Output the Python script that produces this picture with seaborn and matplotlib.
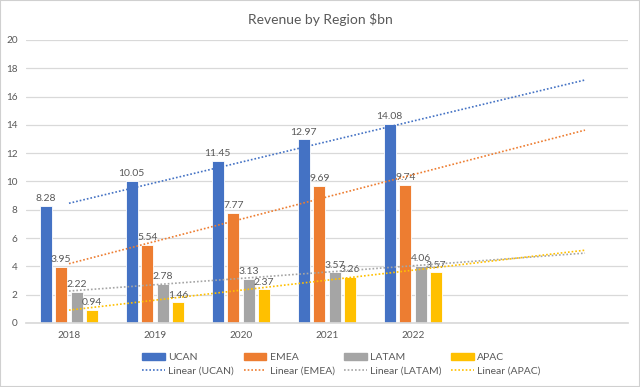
import numpy as np
import pandas as pd
import matplotlib
matplotlib.use("Agg")
import matplotlib.pyplot as plt
import seaborn as sns
from matplotlib.patches import Patch, Rectangle
from matplotlib.lines import Line2D

years = ["2018", "2019", "2020", "2021", "2022"]
ucan = [8.28, 10.05, 11.45, 12.97, 14.08]
emea = [3.95, 5.54, 7.77, 9.69, 9.74]
latam = [2.22, 2.78, 3.13, 3.57, 4.06]
apac = [0.94, 1.46, 2.37, 3.26, 3.57]
regions = ["UCAN", "EMEA", "LATAM", "APAC"]
colors = ["#4472C4", "#ED7D31", "#A5A5A5", "#FFC000"]
yticks = [0, 2, 4, 6, 8, 10, 12, 14, 16, 18, 20]

series = {"UCAN": ucan, "EMEA": emea, "LATAM": latam, "APAC": apac}
df = pd.DataFrame([(y, r, v) for r in regions for y, v in zip(years, series[r])],
                  columns=["Year", "Region", "Revenue"])

sns.set_theme(style="white")
plt.rcParams["font.family"] = ["Lato", "DejaVu Sans"]
txt = "#595959"

fig = plt.figure(figsize=(6.4, 3.87), dpi=100)
ax = fig.add_axes([26/640, 1-323/387, (628-26)/640, (323-40)/387])

sns.barplot(data=df, x="Year", y="Revenue", hue="Region", order=years,
            hue_order=regions, palette=colors, saturation=1, width=0.72, gap=0.2,
            edgecolor="white", linewidth=0.6, ax=ax, legend=False)

for cont in ax.containers:
    ax.bar_label(cont, fmt="%.2f", padding=2, fontsize=7.5, color=txt)

# linear trendlines with 2-period forward forecast
xs = np.arange(len(years))
xfit = np.linspace(0, len(years) + 1, 50)
for r, c in zip(regions, colors):
    k, b = np.polyfit(xs, series[r], 1)
    ax.plot(xfit, k * xfit + b, color=c, lw=1.2, ls=(0, (1, 1.2)), zorder=3)

ax.set_xlim(-0.5, 6.5)
ax.set_ylim(0, 20)
ax.set_yticks(yticks)
ax.tick_params(axis="both", length=0, labelsize=7.2, labelcolor=txt)
ax.tick_params(axis="y", pad=6)
ax.tick_params(axis="x", pad=6)
ax.set_xlabel("")
ax.set_ylabel("")
ax.grid(axis="y", color="#D9D9D9", lw=0.9)
ax.set_axisbelow(True)
for s in ["top", "right", "left"]:
    ax.spines[s].set_visible(False)
ax.spines["bottom"].set_color("#D9D9D9")

fig.text(0.5, 1-19/387, r"Revenue by Region \$bn", ha="center", va="center",
         fontsize=10, color=txt)

handles = []
labels = []
for r, c in zip(regions, colors):
    handles.append(Patch(facecolor=c, edgecolor=c))
    labels.append(r)
    handles.append(Line2D([], [], color=c, lw=1.2, ls=(0, (1, 1.2))))
    labels.append(f"Linear ({r})")
fig.legend(handles, labels, ncol=4, loc="center left",
           bbox_to_anchor=(133/640, 1-364.5/387), frameon=False,
           fontsize=7.5, labelcolor=txt, handlelength=2.2, handleheight=0.6,
           handletextpad=0.3, columnspacing=0.9, labelspacing=0.45)

fig.patches.append(Rectangle((0, 0), 1, 1, transform=fig.transFigure,
                             fill=False, edgecolor="#D0D0D0", lw=1.5))
fig.savefig("out.png", dpi=100)
